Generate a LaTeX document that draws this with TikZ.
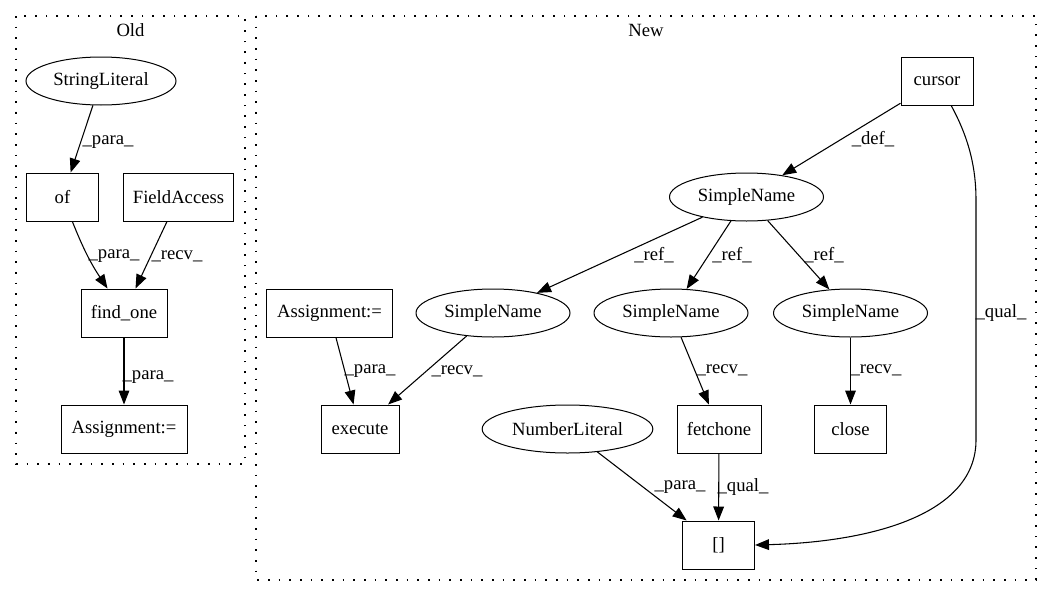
\documentclass[tikz,border=0pt]{standalone}
\usepackage{fontspec}
\setmainfont{Liberation Serif}
\usetikzlibrary{arrows.meta,shapes.geometric}
\begin{document}
\begin{tikzpicture}[x=0.75pt,y=-0.75pt,
  every node/.style={font=\fontsize{14pt}{16pt}\selectfont},
  box/.style={draw,line width=0.75pt,rectangle,minimum height=36pt,inner sep=0pt},
  oval/.style={draw,line width=0.75pt,ellipse,minimum height=36pt,inner sep=0pt},
  edge/.style={line width=0.8pt,-{Triangle[length=10.5pt,width=8pt]}},
  lab/.style={inner sep=0pt},
  cluster/.style={line width=0.8pt,dash pattern=on 1.2pt off 6.8pt}]
\useasboundingbox (0,0) rectangle (1052,596);
% clusters
\draw[cluster] (16,16) rectangle (245,464);
\draw[cluster] (256,16) rectangle (1036,580);
\node[lab] (toldt) at (130.5,30) {Old};
\node[lab] (tnewt) at (646,30) {New};
% Old nodes
\node[oval,minimum width=112.5pt] (sl) at (101,81) {StringLiteral};
\node[box,minimum width=53.5pt] (of) at (62.5,197) {of};
\node[box,minimum width=83pt] (fa) at (178.5,197) {FieldAccess};
\node[box,minimum width=64.5pt] (fo) at (124,313) {find\_one};
\node[box,minimum width=94.5pt] (asold) at (124,429) {Assignment:=};
% Old edges
\draw[edge] (sl) -- (of);
\draw[edge] (of) to[bend right=6] (fo);
\draw[edge] (fa) -- (fo);
\draw[edge] (fo) -- (asold);
\node[lab] (l1) at (108,142) {\_para\_};
\node[lab] (l2) at (114,256) {\_para\_};
\node[lab] (l3) at (177,256) {\_recv\_};
\node[lab] (l4) at (148,377) {\_para\_};
% New nodes
\node[box,minimum width=54pt] (cur) at (937,81) {cursor};
\node[oval,minimum width=115.5pt] (snt) at (746.5,197) {SimpleName};
\node[box,minimum width=94.5pt] (asnew) at (329.5,313) {Assignment:=};
\node[oval,minimum width=115.5pt] (snl) at (493,313) {SimpleName};
\node[oval,minimum width=115.5pt] (snm) at (671,313) {SimpleName};
\node[oval,minimum width=115.5pt] (snr) at (850.5,313) {SimpleName};
\node[box,minimum width=58.5pt] (exe) at (360,429) {execute};
\node[oval,minimum width=128pt] (nl) at (567.5,429) {NumberLiteral};
\node[box,minimum width=63pt] (fc) at (719,429) {fetchone};
\node[box,minimum width=54pt] (cl) at (850.5,429) {close};
\node[box,minimum width=54pt] (idx) at (718.5,545) {[]};
\coordinate (q1) at (976,200);
\coordinate (q2) at (976,440);
% New edges
\draw[edge] (cur) -- (snt);
\draw[edge] (snt) -- (snl);
\draw[edge] (snt) -- (snm);
\draw[edge] (snt) -- (snr);
\draw[edge] (asnew) -- (exe);
\draw[edge] (snl) -- (exe);
\draw[edge] (snm) -- (fc);
\draw[edge] (snr) -- (cl);
\draw[edge] (fc) -- (idx);
\draw[edge] (nl) -- (idx);
\draw[edge] (cur.-60) .. controls (970,140) and (976,170) .. (q1) -- (q2) .. controls (976,515) and (870,542) .. (idx.east);
% New labels
\node[lab] (l5) at (873,139) {\_def\_};
\node[lab] (l6) at (654,255) {\_ref\_};
\node[lab] (l7) at (732,255) {\_ref\_};
\node[lab] (l8) at (824,255) {\_ref\_};
\node[lab] (l9) at (1001,313) {\_qual\_};
\node[lab] (l10) at (370,371) {\_para\_};
\node[lab] (l11) at (457,371) {\_recv\_};
\node[lab] (l12) at (722,370) {\_recv\_};
\node[lab] (l13) at (876,370) {\_recv\_};
\node[lab] (l14) at (680,487) {\_para\_};
\node[lab] (l15) at (743,487) {\_qual\_};
\end{tikzpicture}
\end{document}
